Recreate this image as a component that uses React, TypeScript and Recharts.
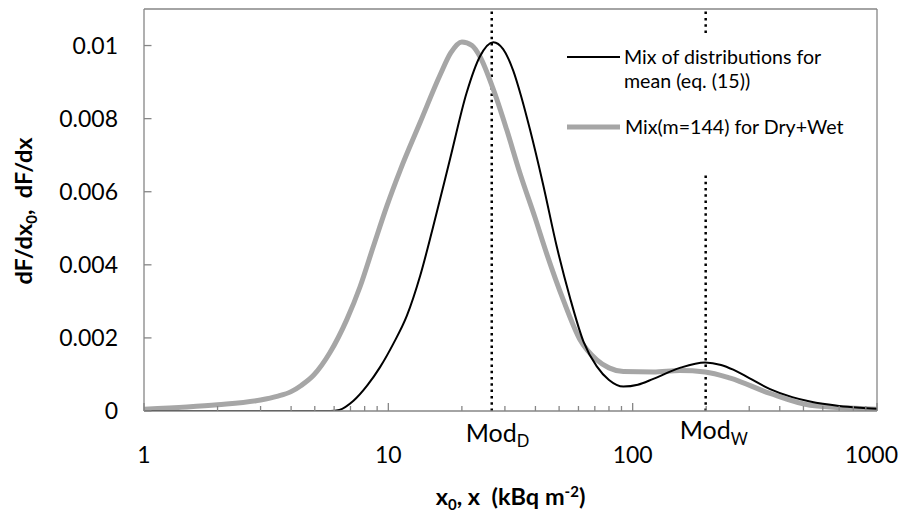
import React from 'react';
import { LineChart, Line, XAxis, YAxis, ReferenceLine, Legend } from 'recharts';

const FONT = 'Lato, "Open Sans", sans-serif';
const AXIS_GRAY = '#868686';
const SERIES_GRAY = '#A6A6A6';

// "Mix of distributions for mean (eq. (15))"
const mixMeanX = [1, 1.5, 2, 3, 4, 5, 5.8, 6.3, 7.2, 8.2, 9.25, 10.5, 11.9, 13.5, 15.2, 17.9, 20.9, 23.7, 26.9, 29.5, 32.5, 35, 38, 43, 48.9, 55.4, 62.9, 71.3, 80, 91.6, 105, 121.5, 156, 198, 230, 258, 300, 365, 450, 532, 700, 852, 1000];
const mixMeanY = [0, 0, 0, 0, 0, 0, 0, 0.00003, 0.00028, 0.0007, 0.0012, 0.00185, 0.0026, 0.0037, 0.005, 0.0069, 0.0087, 0.0097, 0.01009, 0.0099, 0.0093, 0.0086, 0.0077, 0.0062, 0.0045, 0.0031, 0.0019, 0.00122, 0.00085, 0.00067, 0.00072, 0.00088, 0.00118, 0.00133, 0.00126, 0.00113, 0.0009, 0.0006, 0.00038, 0.00026, 0.00014, 0.00009, 0.00006];

// "Mix(m=144) for Dry+Wet"
const dryWetX = [1, 1.5, 2, 3, 3.5, 4, 4.4, 4.93, 5.77, 6.76, 7.66, 8.68, 9.85, 11.2, 13.5, 16.3, 18, 20, 22, 23.7, 26.9, 30.5, 34.6, 39.8, 44.5, 52, 60.9, 71.3, 80, 91.6, 121.5, 156, 198, 251, 365, 532, 852, 1000];
const dryWetY = [0.00005, 0.00011, 0.00017, 0.0003, 0.0004, 0.00053, 0.0007, 0.00097, 0.0016, 0.0025, 0.0034, 0.0045, 0.0056, 0.0066, 0.0079, 0.0092, 0.0098, 0.0101, 0.01, 0.0097, 0.0088, 0.0077, 0.0065, 0.0053, 0.0043, 0.00304, 0.00195, 0.0014, 0.00118, 0.00108, 0.00107, 0.00111, 0.00107, 0.0009, 0.00048, 0.00016, 0.00007, 0.00005];

const seriesNames = ['Mix of distributions for mean (eq. (15))', 'Mix(m=144) for Dry+Wet'];
const legendLines = ['Mix of distributions for', 'mean (eq. (15))'];

const xTicks = [1, 2, 3, 4, 5, 6, 7, 8, 9, 10, 20, 30, 40, 50, 60, 70, 80, 90, 100, 200, 300, 400, 500, 600, 700, 800, 900, 1000];
const xMajorTicks = [1, 10, 100, 1000];
const yTicks = [0, 0.002, 0.004, 0.006, 0.008, 0.01];
const yTickLabels = ['0', '0.002', '0.004', '0.006', '0.008', '0.01'];
const yMax = 0.011;

const modD = 26.5;
const modW = 199;

const mixMeanData = mixMeanX.map((x, i) => ({ x, y: mixMeanY[i] }));
const dryWetData = dryWetX.map((x, i) => ({ x, y: dryWetY[i] }));

const XTick = (props: any) => {
  const { x, y, payload } = props;
  const v = payload.value;
  const major = xMajorTicks.includes(v);
  const last = v === xMajorTicks[xMajorTicks.length - 1];
  return (
    <g>
      <line x1={x} x2={x} y1={y} y2={y - (major ? 8 : 5)} stroke={AXIS_GRAY} strokeWidth={1.3} />
      {major && (
        <text x={last ? x + 21 : x} y={y + 51.5} textAnchor={last ? 'end' : 'middle'} fontFamily={FONT} fontSize={23} fill="#000">
          {v}
        </text>
      )}
    </g>
  );
};

const YTick = (props: any) => {
  const { x, y, payload, index } = props;
  const i = yTicks.indexOf(payload.value);
  return (
    <g>
      <line x1={x} x2={x + 7.5} y1={y} y2={y} stroke={AXIS_GRAY} strokeWidth={1.3} />
      <text x={x - 26} y={y} dy="0.36em" textAnchor="end" fontFamily={FONT} fontSize={23} fill="#000">
        {i >= 0 ? yTickLabels[i] : String(index)}
      </text>
    </g>
  );
};

const ModLabel = (props: any) => {
  const { viewBox, sub, dy, subDy } = props;
  if (!viewBox) return null;
  const bottom = Math.max(viewBox.y, viewBox.y + viewBox.height);
  return (
    <text x={viewBox.x - 26} y={bottom + dy} fontFamily={FONT} fontSize={25} fill="#000">
      Mod
      <tspan fontSize={16.5} dy={subDy}>{sub}</tspan>
    </text>
  );
};

const XTitle = (props: any) => {
  const { viewBox } = props;
  if (!viewBox) return null;
  const cx = viewBox.x + viewBox.width / 2;
  return (
    <text x={cx} y={viewBox.y + 94} textAnchor="middle" fontFamily={FONT} fontSize={23.5} fontWeight="bold" fill="#000" style={{ whiteSpace: 'pre' }}>
      x<tspan fontSize={15} dy={5}>0</tspan>
      <tspan dy={-5}>, x  (kBq m</tspan>
      <tspan fontSize={15} dy={-8}>-2</tspan>
      <tspan dy={8}>)</tspan>
    </text>
  );
};

const YTitle = (props: any) => {
  const { viewBox } = props;
  if (!viewBox) return null;
  const cx = viewBox.x + 24;
  const cy = viewBox.y + viewBox.height / 2 + 1;
  return (
    <text x={cx} y={cy} transform={`rotate(-90 ${cx} ${cy})`} textAnchor="middle" fontFamily={FONT} fontSize={23.5} fontWeight="bold" fill="#000" style={{ whiteSpace: 'pre' }}>
      dF/dx<tspan fontSize={15} dy={5}>0</tspan>
      <tspan dy={-5}>,  dF/dx</tspan>
    </text>
  );
};

const LegendBox = () => (
  <svg width={318} height={140} style={{ display: 'block', background: '#fff' }}>
    <line x1={12} x2={65} y1={22} y2={22} stroke="#000" strokeWidth={2} />
    <text x={69} y={22} dy="0.35em" fontFamily={FONT} fontSize={19.6} fill="#000">{legendLines[0]}</text>
    <text x={69} y={46} dy="0.35em" fontFamily={FONT} fontSize={19.6} fill="#000">{legendLines[1]}</text>
    <line x1={12} x2={65} y1={92} y2={92} stroke={SERIES_GRAY} strokeWidth={5} />
    <text x={70} y={92} dy="0.35em" fontFamily={FONT} fontSize={19.6} fill="#000">{seriesNames[1]}</text>
  </svg>
);

export default function App() {
  return (
    <div style={{ width: 891, height: 516, marginBottom: -8, fontFamily: FONT }}>
      <LineChart width={891} height={516} margin={{ top: 1, right: 22, bottom: 0, left: 0 }}>
        <XAxis
          dataKey="x"
          type="number"
          scale="log"
          domain={[1, 1000]}
          allowDataOverflow
          ticks={xTicks}
          interval={0}
          tick={<XTick />}
          tickSize={0}
          tickMargin={0}
          tickLine={false}
          axisLine={{ stroke: AXIS_GRAY, strokeWidth: 1.3 }}
          height={113}
          label={<XTitle />}
        />
        <YAxis
          type="number"
          domain={[0, yMax]}
          allowDataOverflow
          ticks={yTicks}
          interval={0}
          tick={<YTick />}
          tickSize={0}
          tickMargin={0}
          tickLine={false}
          axisLine={{ stroke: AXIS_GRAY, strokeWidth: 1.3 }}
          width={136}
          label={<YTitle />}
        />
        <ReferenceLine y={yMax} stroke={AXIS_GRAY} strokeWidth={1.3} />
        <ReferenceLine x={1000} stroke={AXIS_GRAY} strokeWidth={1.3} />
        <ReferenceLine x={modD} stroke="#000" strokeWidth={2.5} strokeDasharray="2.5 3.8" label={<ModLabel sub="D" dy={31} subDy={5} />} />
        <ReferenceLine x={modW} stroke="#000" strokeWidth={2.5} strokeDasharray="2.5 3.8" label={<ModLabel sub="W" dy={27.7} subDy={6.6} />} />
        <Line
          data={dryWetData}
          dataKey="y"
          name={seriesNames[1]}
          type="monotone"
          stroke={SERIES_GRAY}
          strokeWidth={5}
          dot={false}
          activeDot={false}
          isAnimationActive={false}
        />
        <Line
          data={mixMeanData}
          dataKey="y"
          name={seriesNames[0]}
          type="monotone"
          stroke="#000"
          strokeWidth={2}
          dot={false}
          activeDot={false}
          isAnimationActive={false}
        />
        <Legend
          layout="vertical"
          align="center"
          verticalAlign="middle"
          content={() => <LegendBox />}
          wrapperStyle={{ left: 547, top: 27, width: 318, height: 140, bottom: 'auto', right: 'auto' }}
        />
      </LineChart>
    </div>
  );
}
